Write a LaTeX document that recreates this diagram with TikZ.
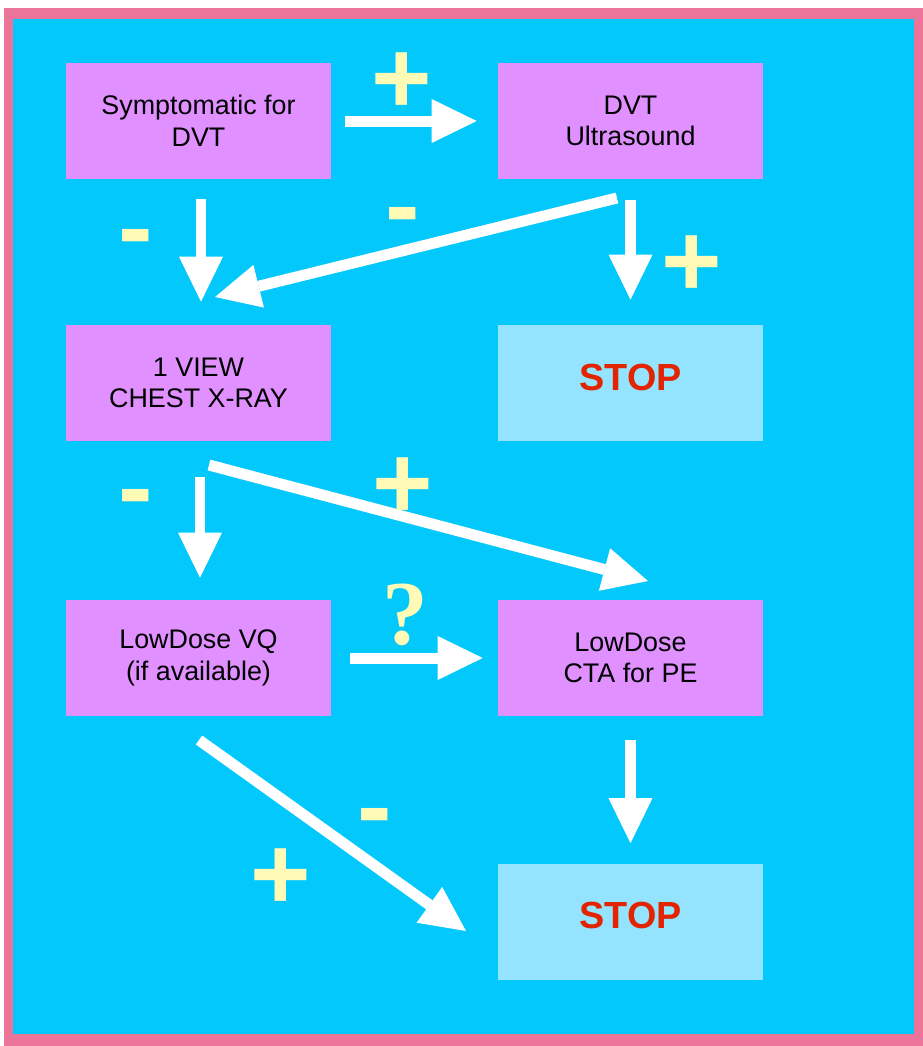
\documentclass[tikz,border=0pt]{standalone}
\usepackage{fontspec}
\setmainfont{Liberation Sans}
\newfontfamily\qfont{Liberation Serif}
\usetikzlibrary{arrows.meta}
\definecolor{framepink}{HTML}{EC7399}
\definecolor{skyblue}{HTML}{03C8FC}
\definecolor{boxviolet}{HTML}{E190FF}
\definecolor{stopblue}{HTML}{94E3FF}
\definecolor{stopred}{HTML}{E22400}
\definecolor{signyellow}{HTML}{FFFAB5}

\begin{document}
\begin{tikzpicture}[x=0.02cm,y=-0.02cm,
    main node/.style={rectangle,fill=boxviolet,minimum width=5.3cm,minimum height=2.32cm,inner sep=0pt,align=center,font=\fontsize{15.3}{18}\selectfont},
    stop node/.style={main node,fill=stopblue,text=stopred,text height=0.58cm,text depth=0.3cm,font=\fontsize{21.5}{25}\selectfont\bfseries},
    sign node/.style={text=signyellow,inner sep=0pt,font=\fontsize{59}{60}\selectfont\bfseries},
    big arrow/.style={draw=white,line width=0.22cm,-{Triangle[length=0.9cm,width=0.88cm,line width=0pt]}}]

      % frame
      \fill[white] (0,0) rectangle (923,1046);
      \fill[framepink] (4,8) rectangle (923,1046);
      \fill[skyblue] (13,19) rectangle (914,1034);

      \node[main node] at (198.5,121) (sym) {Symptomatic for\\DVT};
      \node[main node] at (630.5,121) (us) {DVT\\Ultrasound};
      \node[main node] at (198.5,383) (xray) {1 VIEW\\CHEST X-RAY};
      \node[stop node] at (630.5,383) (stop1) {STOP};
      \node[main node] at (198.5,658) (vq) {LowDose VQ\\(if available)};
      \node[main node] at (630.5,658) (cta) {LowDose\\CTA for PE};
      \node[stop node] at (630.5,921.5) (stop2) {STOP};

      \coordinate (usTail) at (617,198);
      \coordinate (xrayTip) at (215,297);
      \coordinate (xrayTail) at (209,465);
      \coordinate (ctaTip) at (648,581);
      \coordinate (vqTail) at (199,740);
      \coordinate (stopTip) at (466,931);

      \path
      (sym.east) edge[big arrow, shorten <=0.28cm, shorten >=0.42cm] (us.west)
      ([xshift=0.05cm]sym.south) edge[big arrow, shorten <=0.4cm, shorten >=0.46cm] ([xshift=0.05cm]xray.north)
      (us.south) edge[big arrow, shorten <=0.42cm, shorten >=0.5cm] (stop1.north)
      (usTail) edge[big arrow] (xrayTip)
      ([xshift=0.03cm]xray.south) edge[big arrow, shorten <=0.72cm, shorten >=0.44cm] ([xshift=0.03cm]vq.north)
      (xrayTail) edge[big arrow] (ctaTip)
      (vq.east) edge[big arrow, shorten <=0.38cm, shorten >=0.3cm] (cta.west)
      (vqTail) edge[big arrow] (stopTip)
      (cta.south) edge[big arrow, shorten <=0.48cm, shorten >=0.4cm] (stop2.north)
      ;

      % signs
      \node[sign node] at (402,83) (plusA) {+};
      \node[sign node, anchor=base] at (136,262) (minusA) {-};
      \node[sign node, anchor=base] at (403,240) (minusB) {-};
      \node[sign node] at (692,266) (plusB) {+};
      \node[sign node, anchor=base] at (136,522) (minusC) {-};
      \node[sign node] at (403,488) (plusC) {+};
      \node[sign node, font=\fontsize{52}{54}\selectfont\qfont\bfseries] at (405,615) (query) {?};
      \node[sign node, anchor=base] at (375,841) (minusD) {-};
      \node[sign node] at (281,879) (plusD) {+};

    \end{tikzpicture}
\end{document}
